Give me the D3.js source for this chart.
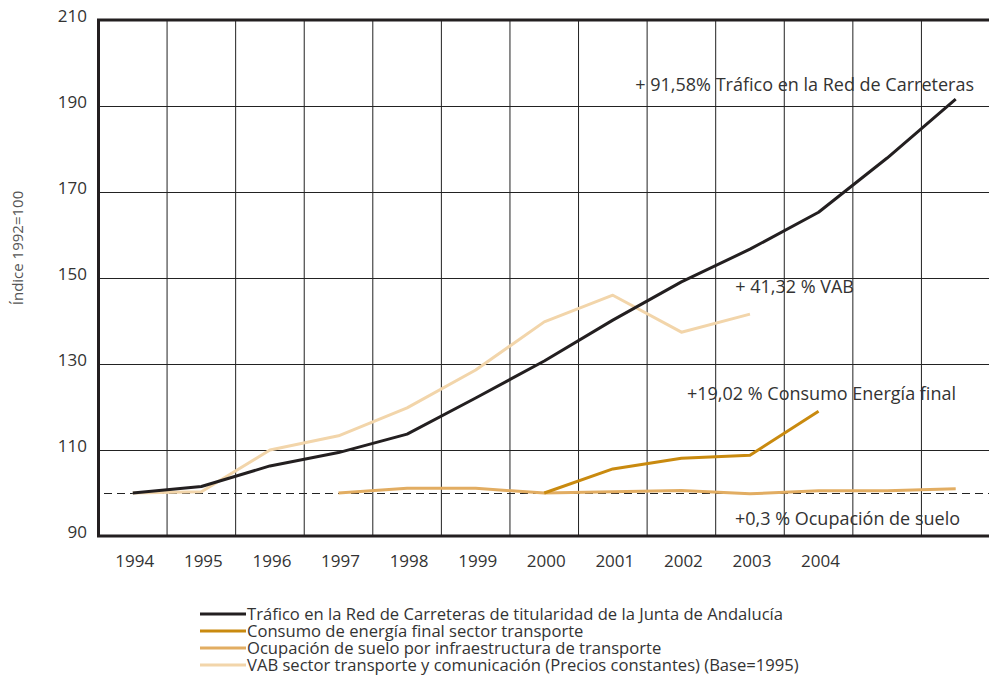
<!DOCTYPE html>
<html>
<head>
<meta charset="utf-8">
<script src="https://cdn.jsdelivr.net/npm/d3@7"></script>
<style>
	body { margin: 0; background: #fff; }
	svg { display: block; }
	text { font-family: "Open Sans", sans-serif; fill: #333; }
</style>
</head>
<body>
<svg id="chart" width="989" height="676"></svg>
<script>
const years = [1994, 1995, 1996, 1997, 1998, 1999, 2000, 2001, 2002, 2003, 2004, 2005, 2006];
const yearLabels = [1994, 1995, 1996, 1997, 1998, 1999, 2000, 2001, 2002, 2003, 2004];
const yTicks = [90, 110, 130, 150, 170, 190, 210];

const trafico = [100, 101.5, 106.3, 109.4, 113.7, 122.1, 130.7, 140.2, 149.1, 156.7, 165.3, 177.9, 191.6];
const energia = [null, null, null, null, null, null, 100, 105.6, 108.1, 108.8, 119.0, null, null];
const suelo = [null, null, null, 100, 101.1, 101.1, 100.0, 100.3, 100.6, 99.8, 100.5, 100.5, 101.0];
const vab = [100, 100.3, 110, 113.3, 119.8, 128.6, 139.8, 146.0, 137.4, 141.6, null, null, null];

const series = [
	{ name: "Tráfico en la Red de Carreteras de titularidad de la Junta de Andalucía", values: trafico, color: "#231f20" },
	{ name: "Consumo de energía final sector transporte", values: energia, color: "#c98a0f" },
	{ name: "Ocupación de suelo por infraestructura de transporte", values: suelo, color: "#e2ad62" },
	{ name: "VAB sector transporte y comunicación (Precios constantes) (Base=1995)", values: vab, color: "#f2d5aa" }
];

const annotations = [
	{ text: "+ 91,58% Tráfico en la Red de Carreteras", value: 193.5 },
	{ text: "+ 41,32 % VAB", value: 146.4 },
	{ text: "+19,02 % Consumo Energía final", value: 121.6 },
	{ text: "+0,3 % Ocupación de suelo", value: 92.5 }
];

const svg = d3.select("#chart");
const margin = { left: 98.5, right: 990, top: 20, bottom: 536 };

const x = d3.scaleBand()
	.domain(years)
	.range([margin.left, margin.right])
	.padding(0);

const y = d3.scaleLinear()
	.domain([90, 210])
	.range([margin.bottom, margin.top]);

const cx = d => x(d) + x.bandwidth() / 2;

// vertical grid at column boundaries
svg.append("g")
	.selectAll("line")
	.data(years)
	.join("line")
	.attr("x1", d => x(d) + x.bandwidth())
	.attr("x2", d => x(d) + x.bandwidth())
	.attr("y1", margin.top)
	.attr("y2", margin.bottom)
	.attr("stroke", "#222")
	.attr("stroke-width", 1);

// horizontal grid
svg.append("g")
	.selectAll("line")
	.data(yTicks.filter(d => d > 90 && d < 210))
	.join("line")
	.attr("x1", margin.left)
	.attr("x2", margin.right)
	.attr("y1", d => Math.round(y(d)) + 0.5)
	.attr("y2", d => Math.round(y(d)) + 0.5)
	.attr("stroke", "#222")
	.attr("stroke-width", 1);

// frame: top, left, bottom
svg.append("line")
	.attr("x1", margin.left - 1.5).attr("x2", margin.right)
	.attr("y1", margin.top).attr("y2", margin.top)
	.attr("stroke", "#231f20").attr("stroke-width", 3);
svg.append("line")
	.attr("x1", margin.left).attr("x2", margin.left)
	.attr("y1", margin.top).attr("y2", margin.bottom)
	.attr("stroke", "#231f20").attr("stroke-width", 3);
svg.append("line")
	.attr("x1", margin.left - 1.5).attr("x2", margin.right)
	.attr("y1", margin.bottom).attr("y2", margin.bottom)
	.attr("stroke", "#231f20").attr("stroke-width", 3);

// base 100 reference
svg.append("line")
	.attr("x1", 104).attr("x2", margin.right)
	.attr("y1", y(100) + 0.5).attr("y2", y(100) + 0.5)
	.attr("stroke", "#222").attr("stroke-width", 1)
	.attr("stroke-dasharray", "8,5");

// y axis labels
svg.append("g")
	.selectAll("text")
	.data(yTicks)
	.join("text")
	.attr("x", 87)
	.attr("y", d => y(d))
	.attr("dy", "0.1em")
	.attr("text-anchor", "end")
	.style("font-size", "17px")
	.text(d => d);

// x axis labels
svg.append("g")
	.selectAll("text")
	.data(yearLabels)
	.join("text")
	.attr("x", d => cx(d) + 2)
	.attr("y", 567)
	.attr("text-anchor", "middle")
	.style("font-size", "17px")
	.text(d => d);

// axis title
svg.append("text")
	.attr("transform", "translate(23,248) rotate(-90)")
	.attr("text-anchor", "middle")
	.style("font-size", "15px")
	.style("fill", "#555")
	.text("Índice 1992=100");

// lines
const line = d3.line()
	.defined(d => d.v != null)
	.x(d => cx(d.year))
	.y(d => y(d.v));

svg.append("g")
	.selectAll("path")
	.data(series.slice().reverse())
	.join("path")
	.attr("d", s => line(years.map((yr, i) => ({ year: yr, v: s.values[i] }))))
	.attr("fill", "none")
	.attr("stroke", s => s.color)
	.attr("stroke-width", 3)
	.attr("stroke-linejoin", "round");

// annotations, right-aligned
svg.append("g")
	.selectAll("text")
	.data(annotations)
	.join("text")
	.attr("x", (d, i) => [974, 854, 956, 960][i])
	.attr("y", d => y(d.value))
	.attr("text-anchor", "end")
	.style("font-size", "18px")
	.text(d => d.text);

// legend
const legend = svg.append("g")
	.selectAll("g")
	.data(series)
	.join("g")
	.attr("transform", (d, i) => "translate(200," + (614 + i * 17) + ")");

legend.append("line")
	.attr("x1", 0).attr("x2", 46)
	.attr("stroke", d => d.color)
	.attr("stroke-width", 3);

legend.append("text")
	.attr("x", 47)
	.attr("dy", "0.35em")
	.style("font-size", "16.6px")
	.text(d => d.name);
</script>
</body>
</html>
